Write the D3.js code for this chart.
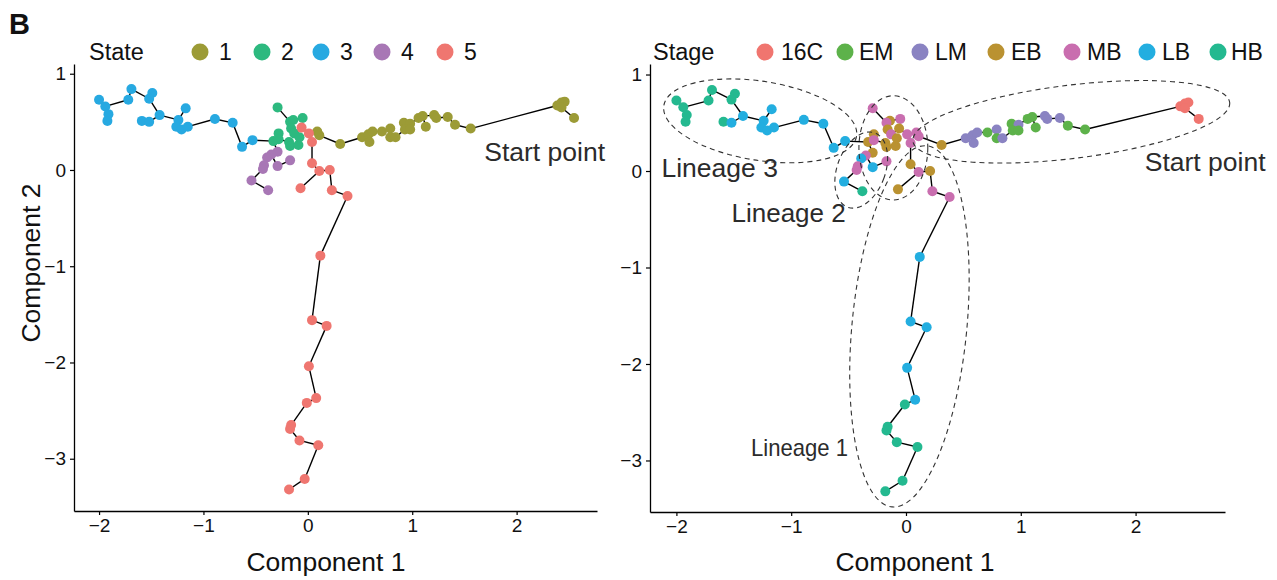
<!DOCTYPE html>
<html><head><meta charset="utf-8">
<script src="https://cdn.jsdelivr.net/npm/d3@7/dist/d3.min.js"></script>
<style>
html,body{margin:0;padding:0;background:#fff;}
text{font-family:"Liberation Sans",Arial,sans-serif;}
</style></head>
<body><svg id="chart" width="1277" height="580"></svg>
<script>
// ---------------- DATA ----------------
// cell coordinates (Component 1, Component 2), state and stage of each cell
const compX = [
  // state 1
  0.09,0.11,0.31,0.52,0.58,0.62,0.59,0.71,0.79,0.79,0.84,0.92,0.98,0.93,0.98,1.06,1.10,1.13,1.21,1.23,1.34,1.41,1.56,2.39,2.43,2.46,2.43,2.55,
  // state 2
  -0.29,-0.14,-0.17,-0.05,-0.16,-0.28,-0.13,-0.33,-0.28,-0.18,-0.17,-0.09,-0.08,
  // state 3
  -2.00,-1.94,-1.91,-1.92,-1.72,-1.69,-1.49,-1.52,-1.42,-1.59,-1.52,-1.17,-1.24,-1.26,-1.21,-1.15,-0.89,-0.72,-0.53,-0.63,
  // state 4
  -0.29,-0.35,-0.39,-0.42,-0.43,-0.29,-0.17,-0.54,-0.38,
  // state 5
  -0.06,0.01,0.04,0.04,0.11,0.21,-0.07,0.23,0.38,0.12,0.04,0.18,0.01,0.08,-0.01,-0.16,-0.17,-0.08,0.10,-0.03,-0.18
];
const compY = [
  0.40,0.36,0.27,0.34,0.37,0.40,0.29,0.40,0.43,0.34,0.34,0.49,0.48,0.42,0.42,0.54,0.56,0.45,0.57,0.54,0.55,0.47,0.43,0.67,0.70,0.71,0.65,0.54,
  0.65,0.52,0.50,0.54,0.43,0.38,0.38,0.30,0.32,0.29,0.25,0.26,0.34,
  0.73,0.66,0.58,0.51,0.73,0.84,0.80,0.74,0.57,0.51,0.50,0.64,0.52,0.45,0.42,0.45,0.53,0.49,0.31,0.24,
  0.19,0.16,0.13,0.05,0.01,0.04,0.10,-0.11,-0.21,
  0.44,0.38,0.29,0.07,-0.01,0.00,-0.19,-0.21,-0.27,-0.89,-1.56,-1.62,-2.04,-2.37,-2.42,-2.65,-2.69,-2.81,-2.86,-3.21,-3.32
];
const cellState = [
  1,1,1,1,1,1,1,1,1,1,1,1,1,1,1,1,1,1,1,1,1,1,1,1,1,1,1,1,
  2,2,2,2,2,2,2,2,2,2,2,2,2,
  3,3,3,3,3,3,3,3,3,3,3,3,3,3,3,3,3,3,3,3,
  4,4,4,4,4,4,4,4,4,
  5,5,5,5,5,5,5,5,5,5,5,5,5,5,5,5,5,5,5,5,5
];
const cellStage = [
  "MB","MB","EB","LM","LM","LM","LM","EM","LM","EM","LM","EM","LM","EM","EM","EM","EM","EM","LM","LM","LM","EM","EM","16C","16C","16C","16C","16C",
  "MB","EB","MB","MB","EB","EB","MB","EB","MB","EB","EB","EB","EB",
  "HB","HB","HB","HB","HB","HB","HB","HB","LB","HB","LB","LB","LB","LB","LB","LB","LB","LB","LB","LB",
  "EB","MB","LB","MB","MB","LB","MB","LB","HB",
  "EB","MB","MB","EB","MB","EB","EB","MB","MB","LB","LB","LB","LB","LB","HB","HB","HB","HB","HB","HB","HB"
];
const stateLevels = [1,2,3,4,5];
const stageLevels = ["16C","EM","LM","EB","MB","LB","HB"];
const xTicks = [-2,-1,0,1,2];
const yTicks = [1,0,-1,-2,-3];

// annotations (data units)
const ellipseNames = ["Lineage 3","Start point","Center","Lineage 2","Lineage 1"];
const ellipseCx = [-1.27, 1.44, -0.11, -0.39, 0.03];
const ellipseCy = [0.52, 0.51, 0.24, 0.01, -1.61];
const ellipseRx = [0.85, 1.39, 0.30, 0.21, 0.50];
const ellipseRy = [0.41, 0.38, 0.54, 0.41, 1.88];
const ellipseRot = [9, -7, 0, 20, 5.5];

// ---------------- STYLE / LAYOUT ----------------
const stateColors = ["#9C9B36","#2DB97F","#27A9E1","#A877B5","#EF7670"];
const stageColors = ["#F0756F","#5DB24A","#8A83C2","#BA9231","#C96EAF","#23AEE0","#24B990"];
const colState = d3.scaleOrdinal(stateLevels, stateColors);
const colStage = d3.scaleOrdinal(stageLevels, stageColors);

const svg = d3.select("#chart");
const fmt = d => d < 0 ? "\u2212" + Math.abs(d) : String(d);

const panels = [
  {xr:[74,597], yr:[511,64], xd:[-2.24,2.77], yd:[-3.543,1.101]},
  {xr:[650,1225], yr:[512,64], xd:[-2.23,2.779], yd:[-3.534,1.109]}
];
panels.forEach(p => {
  p.x = d3.scaleLinear().domain(p.xd).range(p.xr);
  p.y = d3.scaleLinear().domain(p.yd).range(p.yr);
});

const n = compX.length;
const cells = d3.range(n).map(i => ({x:compX[i], y:compY[i], state:cellState[i], stage:cellStage[i]}));

// minimum spanning tree of the cells (trajectory backbone), computed in panel-1 pixel space
function mst(pts, sx, sy) {
  const m = pts.length, inT = new Array(m).fill(false), best = new Array(m).fill(Infinity), par = new Array(m).fill(-1);
  best[0] = 0; const edges = [];
  for (let k = 0; k < m; k++) {
    let u = -1;
    for (let i = 0; i < m; i++) if (!inT[i] && (u < 0 || best[i] < best[u])) u = i;
    inT[u] = true;
    if (par[u] >= 0) edges.push([par[u], u]);
    for (let v = 0; v < m; v++) if (!inT[v]) {
      const dx = sx(pts[u].x) - sx(pts[v].x), dy = sy(pts[u].y) - sy(pts[v].y);
      const dd = Math.hypot(dx, dy);
      if (dd < best[v]) { best[v] = dd; par[v] = u; }
    }
  }
  return edges;
}
const edges = mst(cells, panels[0].x, panels[0].y);

function drawPanel(p, colorFn) {
  const g = svg.append("g");
  g.append("g").selectAll("line").data(edges).join("line")
    .attr("x1", e => p.x(cells[e[0]].x)).attr("y1", e => p.y(cells[e[0]].y))
    .attr("x2", e => p.x(cells[e[1]].x)).attr("y2", e => p.y(cells[e[1]].y))
    .attr("stroke", "#000").attr("stroke-width", 1.4);
  g.append("g").selectAll("circle").data(cells).join("circle")
    .attr("cx", d => p.x(d.x)).attr("cy", d => p.y(d.y)).attr("r", 5)
    .attr("fill", colorFn);
  const ax = g.append("g").attr("transform", `translate(0,${p.yr[0]})`)
    .call(d3.axisBottom(p.x).tickValues(xTicks).tickFormat(fmt).tickSize(4).tickSizeOuter(0).tickPadding(4));
  const ay = g.append("g").attr("transform", `translate(${p.xr[0]},0)`)
    .call(d3.axisLeft(p.y).tickValues(yTicks).tickFormat(fmt).tickSize(4).tickSizeOuter(0).tickPadding(4));
  [ax, ay].forEach(a => {
    a.select(".domain").attr("stroke", "#000").attr("stroke-width", 1.3);
    a.selectAll(".tick line").attr("stroke", "#000").attr("stroke-width", 1.2);
    a.selectAll(".tick text").attr("fill", "#111").style("font-size", "19px").style("font-family", "'Liberation Sans',Arial,sans-serif");
  });
  return g;
}

drawPanel(panels[0], d => colState(d.state));
drawPanel(panels[1], d => colStage(d.stage));

svg.append("text").attr("x", 9).attr("y", 34).text("B")
  .style("font-size", "29px").style("font-weight", "bold").attr("fill", "#111");

svg.append("text").attr("x", 326).attr("y", 571).attr("text-anchor", "middle").text("Component 1")
  .style("font-size", "26.5px").attr("fill", "#111");
svg.append("text").attr("x", 915).attr("y", 571).attr("text-anchor", "middle").text("Component 1")
  .style("font-size", "26.5px").attr("fill", "#111");
svg.append("text").attr("transform", "translate(40,263) rotate(-90)").attr("text-anchor", "middle").text("Component 2")
  .style("font-size", "26.5px").attr("fill", "#111");

function legend(title, tx, items, cxs, txs, colorFn) {
  const ly = 52;
  svg.append("text").attr("x", tx).attr("y", ly).attr("dy", "0.35em").text(title)
    .style("font-size", "23.5px").attr("fill", "#111");
  items.forEach((it, i) => {
    svg.append("circle").attr("cx", cxs[i]).attr("cy", ly).attr("r", 8.5).attr("fill", colorFn(it));
    svg.append("text").attr("x", txs[i]).attr("y", ly).attr("dy", "0.35em").text(it)
      .style("font-size", "23px").attr("fill", "#111");
  });
}
legend("State", 89, stateLevels, [200,262,321,382,445], [219,281,340,401,464], colState);
legend("Stage", 653, stageLevels, [765,845,920,996,1072,1147,1218], [781,859,935,1011,1087,1162,1231], colStage);

const P0 = panels[0], P1 = panels[1];
function note(p, x, y, t, size, len) {
  const el = svg.append("text").attr("x", p.x(x)).attr("y", p.y(y)).attr("dy", "0.35em").text(t)
    .style("font-size", size + "px").attr("fill", "#2b2b2b");
  if (len) el.attr("textLength", len).attr("lengthAdjust", "spacingAndGlyphs");
}
note(P0, 1.69, 0.19, "Start point", 26.5);
note(P1, 2.08, 0.10, "Start point", 26.5);
note(P1, -2.13, 0.03, "Lineage 3", 26.5);
note(P1, -1.52, -0.435, "Lineage 2", 26);
note(P1, -1.35, -2.87, "Lineage 1", 24, 97);

const kx = Math.abs(P1.x(1) - P1.x(0)), ky = Math.abs(P1.y(1) - P1.y(0));
svg.append("g").selectAll("ellipse").data(ellipseNames).join("ellipse")
  .attr("transform", (d, i) => `translate(${P1.x(ellipseCx[i])},${P1.y(ellipseCy[i])}) rotate(${ellipseRot[i]})`)
  .attr("rx", (d, i) => ellipseRx[i] * kx).attr("ry", (d, i) => ellipseRy[i] * ky)
  .attr("fill", "none").attr("stroke", "#333").attr("stroke-width", 1.1).attr("stroke-dasharray", "5,4");
</script></body></html>
